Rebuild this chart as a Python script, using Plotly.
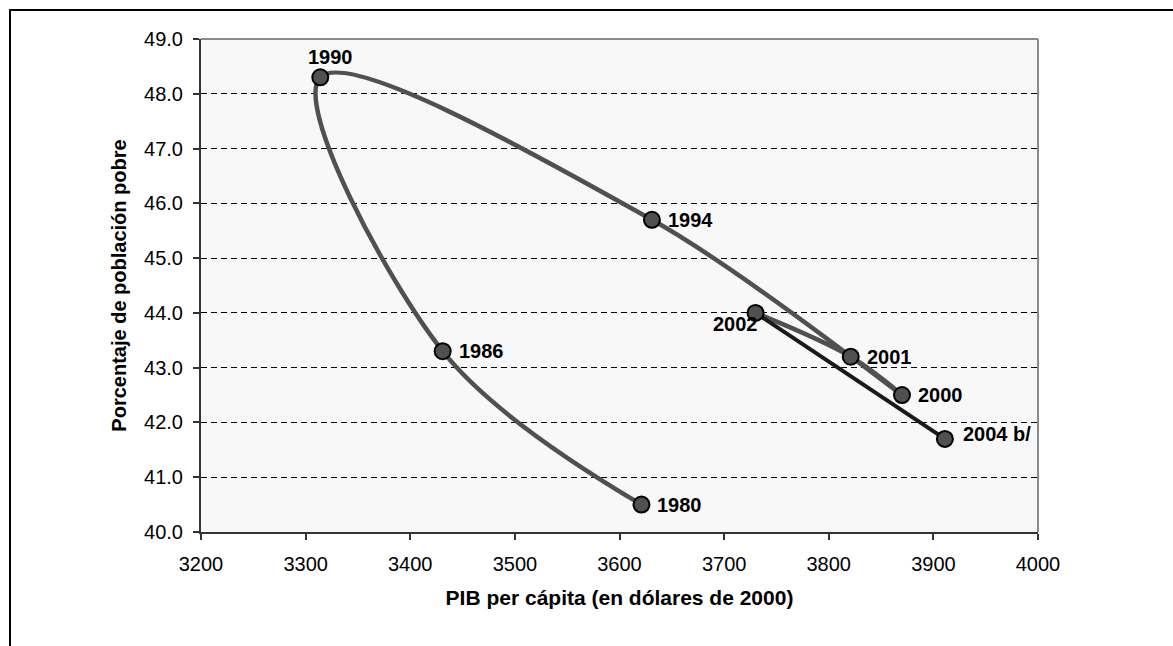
import plotly.graph_objects as go

# GDP per capita (2000 dollars) vs. share of poor population
years_curve = ["1980", "1986", "1990", "1994", "2000", "2001", "2002"]
gdp_curve = [3621, 3431, 3314, 3631, 3870, 3821, 3730]
poor_curve = [40.5, 43.3, 48.3, 45.7, 42.5, 43.2, 44.0]

years_tail = ["2002", "2004 b/"]
gdp_tail = [3730, 3911]
poor_tail = [44.0, 41.7]

label_pos = {
    "1980": "middle right",
    "1986": "middle right",
    "1990": "top center",
    "1994": "middle right",
    "2000": "middle right",
    "2001": "middle right",
    "2002": "bottom left",
    "2004 b/": "top right",
}

W, H = 1173, 646
ML, MR, MT, MB = 201, 135, 39, 114
PW, PH = W - ML - MR, H - MT - MB

font_family = "Liberation Sans, Arial, sans-serif"
marker = dict(size=16, color="#505050", line=dict(color="#000000", width=2))

fig = go.Figure()

fig.add_trace(go.Scatter(
    x=gdp_curve, y=poor_curve,
    mode="lines",
    line=dict(color="#505050", width=4.5, shape="spline", smoothing=1.0),
    hoverinfo="skip", showlegend=False,
))
fig.add_trace(go.Scatter(
    x=gdp_tail, y=poor_tail,
    mode="lines",
    line=dict(color="#1a1a1a", width=4),
    hoverinfo="skip", showlegend=False,
))

all_years = years_curve + ["2004 b/"]
all_gdp = gdp_curve + [gdp_tail[1]]
all_poor = poor_curve + [poor_tail[1]]
fig.add_trace(go.Scatter(
    x=all_gdp, y=all_poor,
    mode="markers",
    marker=marker,
    hoverinfo="skip", showlegend=False,
))

for yr, gx, py in zip(all_years, all_gdp, all_poor):
    pos = label_pos[yr]
    xshift, yshift, xanchor, yanchor = 0, 0, "center", "middle"
    if pos == "middle right":
        xanchor, xshift = "left", 14
    elif pos == "top center":
        yanchor, xshift, yshift = "bottom", 10, 7
    elif pos == "bottom left":
        xanchor, yanchor, xshift, yshift = "right", "top", 4, 2
    elif pos == "top right":
        xanchor, xshift, yshift = "left", 16, 5
    fig.add_annotation(
        x=gx, y=py, text=f"<b>{yr}</b>", showarrow=False,
        xanchor=xanchor, yanchor=yanchor, xshift=xshift, yshift=yshift,
        font=dict(family=font_family, size=20, color="#000000"),
    )

# Outer frame around the whole chart
fig.add_shape(
    type="rect", xref="paper", yref="paper",
    x0=(10 - ML) / PW, x1=(W + 20 - ML) / PW,
    y0=(H - MB - (H + 20)) / PH, y1=(H - MB - 10) / PH,
    line=dict(color="#000000", width=2), fillcolor="rgba(0,0,0,0)",
    layer="below",
)
# Light frame on top and right of plot area
fig.add_shape(type="line", xref="paper", yref="paper", x0=0, x1=1, y0=1, y1=1,
              line=dict(color="#8a8a8a", width=2))
fig.add_shape(type="line", xref="paper", yref="paper", x0=1, x1=1, y0=0, y1=1,
              line=dict(color="#8a8a8a", width=2))

fig.update_layout(
    width=W, height=H,
    margin=dict(l=ML, r=MR, t=MT, b=MB, pad=0),
    paper_bgcolor="#ffffff",
    plot_bgcolor="#f8f8f8",
    font=dict(family=font_family, size=20, color="#000000"),
    xaxis=dict(
        range=[3200, 4000], dtick=100, tick0=3200,
        showgrid=False, zeroline=False,
        showline=True, linecolor="#333333", linewidth=2,
        ticks="outside", ticklen=6, tickcolor="#333333", tickwidth=1.5,
        tickfont=dict(size=20), ticklabelstandoff=7,
        title=dict(text="<b>PIB per cápita (en dólares de 2000)</b>",
                   font=dict(size=21), standoff=16),
    ),
    yaxis=dict(
        range=[40, 49], dtick=1, tick0=40, tickformat=".1f",
        showgrid=True, gridcolor="#000000", griddash="6px,4px", gridwidth=1,
        zeroline=False,
        showline=True, linecolor="#333333", linewidth=2,
        ticks="outside", ticklen=6, tickcolor="#333333", tickwidth=1.5,
        tickfont=dict(size=20), ticklabelstandoff=6,
        title=dict(text="<b>Porcentaje de población pobre</b>",
                   font=dict(size=20), standoff=12),
    ),
)

fig.write_html("out.html")
